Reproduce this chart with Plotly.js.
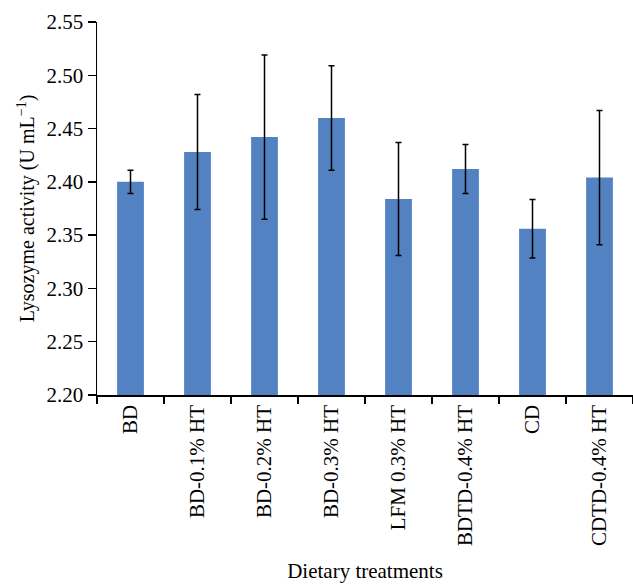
<!DOCTYPE html>
<html>
<head>
<meta charset="utf-8">
<script src="https://cdn.plot.ly/plotly-3.0.1.min.js"></script>
<style>html,body{margin:0;padding:0;background:#fff;}#chart{width:633px;height:588px;}</style>
</head>
<body>
<div id="chart"></div>
<script>
const categories = ["BD", "BD-0.1% HT", "BD-0.2% HT", "BD-0.3% HT", "LFM 0.3% HT", "BDTD-0.4% HT", "CD", "CDTD-0.4% HT"];
const lysozyme = [2.400, 2.428, 2.442, 2.460, 2.384, 2.412, 2.356, 2.404];
const errors = [0.011, 0.054, 0.077, 0.049, 0.053, 0.023, 0.0275, 0.063];
const yTicks = [2.20, 2.25, 2.30, 2.35, 2.40, 2.45, 2.50, 2.55];

const font = "Liberation Serif";

const trace = {
  type: "bar",
  x: categories,
  y: lysozyme,
  width: 0.4,
  marker: {color: "#5382C3", line: {width: 0}},
  error_y: {type: "data", array: errors, visible: true, color: "#000", thickness: 1.5, width: 3}
};

const layout = {
  width: 633, height: 588,
  margin: {l: 97, r: 0, t: 22, b: 193},
  paper_bgcolor: "#fff", plot_bgcolor: "#fff",
  showlegend: false,
  font: {family: font, size: 20, color: "#000"},
  xaxis: {
    type: "category",
    range: [-0.5, 7.5],
    tickson: "boundaries",
    ticks: "outside", ticklen: 7, tickwidth: 1.5, tickcolor: "#000",
    showline: true, linecolor: "#000", linewidth: 1.5,
    showgrid: false, zeroline: false,
    tickangle: -90,
    tickfont: {family: font, size: 21, color: "#000"},
    title: {text: "Dietary treatments", font: {family: font, size: 21, color: "#000"}, standoff: 18},
    automargin: false
  },
  yaxis: {
    range: [2.2, 2.55],
    dtick: 0.05,
    tick0: 2.2,
    tickformat: ".2f",
    ticks: "outside", ticklen: 8, tickwidth: 1.5, tickcolor: "#000",
    showline: true, linecolor: "#000", linewidth: 1.5,
    showgrid: false, zeroline: false,
    tickfont: {family: font, size: 21, color: "#000"},
    title: {text: "Lysozyme activity (U mL<sup>−1</sup>)", font: {family: font, size: 20, color: "#000"}, standoff: 6},
    automargin: false
  }
};

Plotly.newPlot("chart", [trace], layout, {displayModeBar: false, staticPlot: true});
</script>
</body>
</html>
